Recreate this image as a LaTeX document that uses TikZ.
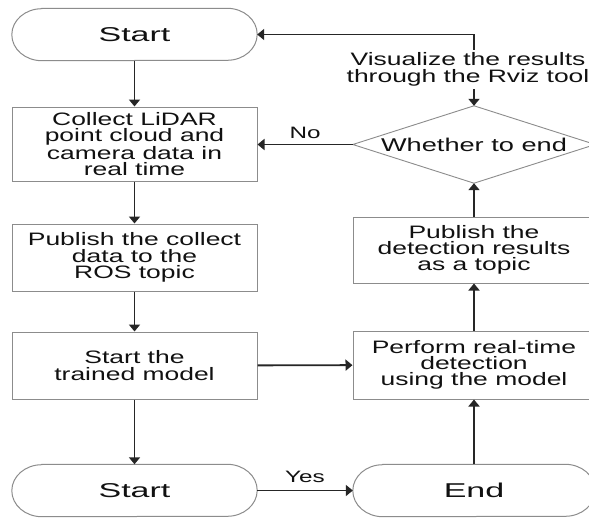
\documentclass[tikz,border=0pt]{standalone}
\usepackage{fontspec}
\setmainfont{Liberation Sans}[FakeStretch=1.47]
\newfontfamily\termfont{Liberation Sans}[FakeStretch=1.7]
\usetikzlibrary{arrows.meta}
\definecolor{ink}{HTML}{111111}
\definecolor{boxgray}{HTML}{8C8C8C}
\definecolor{linegray}{HTML}{262626}

% Stadium outline (elliptic ends) drawn around a terminal node
\newcommand{\stadium}[1]{%
  \draw[termline] ([xshift=30pt]#1.north west) -- ([xshift=-30pt]#1.north east)
    arc[start angle=90,end angle=-90,x radius=30pt,y radius=26pt]
    -- ([xshift=30pt]#1.south west)
    arc[start angle=270,end angle=90,x radius=30pt,y radius=26pt] -- cycle;}

\begin{document}
\begin{tikzpicture}[x=1pt,y=-1pt,
  boxnode/.style={draw=boxgray, line width=1pt, minimum width=245pt,
    align=center, inner sep=0pt, text=ink,
    font=\fontsize{18}{16.3}\selectfont},
  termnode/.style={minimum width=245pt, minimum height=52pt, inner sep=0pt,
    text=ink, font=\termfont\fontsize{20}{20}\selectfont},
  termline/.style={draw=boxgray, line width=1pt},
  plaintext/.style={align=center, text=ink, inner xsep=0pt, inner ysep=3pt,
    font=\fontsize{18}{16.6}\selectfont},
  lbl/.style={text=ink, inner sep=0pt, font=\fontsize{16.5}{16.5}\selectfont},
  arr/.style={draw=linegray, line width=1.9pt,
    -{Triangle[width=11pt,length=7pt]}},
  conn/.style={draw=linegray, line width=1.9pt}]

\path[use as bounding box, fill=white] (0,0) rectangle (589,519);
\clip (0,0) rectangle (589,519);

% left column
\node[termnode] (s1) at (134.5,34.5) {Start};
\node[boxnode, minimum height=74pt] (c1) at (134.5,144)
  {Collect LiDAR\\point cloud and\\camera data in\\real time};
\node[boxnode, minimum height=67pt] (p1) at (134.5,257.5)
  {Publish the collect\\data to the\\ROS topic};
\node[boxnode, minimum height=67pt] (t1) at (134.5,365.5)
  {Start the\\trained model};
\node[termnode] (s2) at (134.5,490.5) {Start};

% right column
\node[termnode, minimum width=242pt] (e1) at (474,490.5) {End};
\node[boxnode, minimum width=242pt, minimum height=68pt] (pf) at (474,365)
  {Perform real-time\\detection\\using the model};
\node[boxnode, minimum width=242pt, minimum height=66pt] (pd) at (474,250)
  {Publish the\\detection results\\as a topic};
\node[minimum width=242pt, minimum height=77pt, inner sep=0pt, text=ink,
  font=\fontsize{18.5}{18.5}\selectfont] (dec) at (474,144.5) {Whether to end};
\draw[draw=boxgray, line width=0.9pt]
  (dec.north) -- (dec.east) -- (dec.south) -- (dec.west) -- cycle;
\node[plaintext] (vis) at (468,69.5)
  {Visualize the results\\through the Rviz tool};

\stadium{s1}
\stadium{s2}
\stadium{e1}

% connectors
\draw[arr] (s1) -- (c1);
\draw[arr] (c1) -- (p1);
\draw[arr] (p1) -- (t1);
\draw[arr] (t1) -- (s2);
\draw[arr] (t1) -- (pf);
\draw[arr] (s2) -- node[lbl, above=7pt] {Yes} (e1);
\draw[arr] (e1) -- (pf);
\draw[arr] (pf) -- (pd);
\draw[arr] (pd) -- (dec.south);
\draw[arr] (dec.west) -- node[lbl, above=5pt] {No} (dec.west -| c1.east);
\draw[arr] (vis.south -| dec.north) -- (dec.north);
\draw[arr] (vis.north -| dec.north) |- (s1.east);

\end{tikzpicture}
\end{document}
